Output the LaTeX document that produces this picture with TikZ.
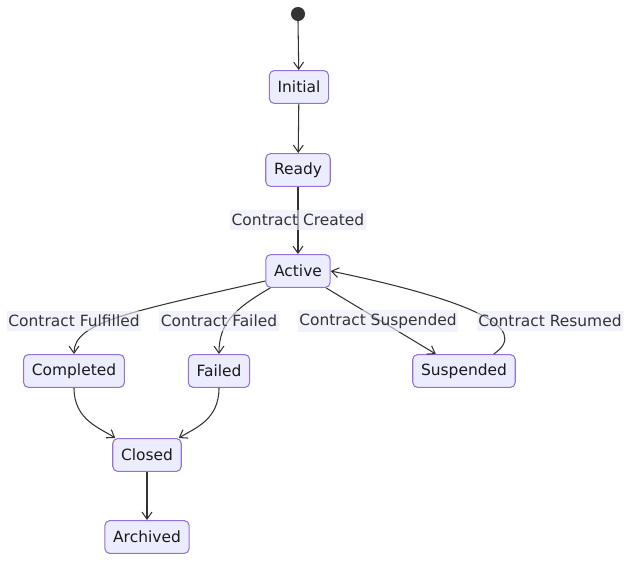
\documentclass[tikz,border=0pt]{standalone}
\usepackage{fontspec}
\setmainfont{DejaVu Sans}
\usepackage{tikz}
\usetikzlibrary{arrows.meta,calc}
\definecolor{statefill}{RGB}{236, 236, 255}
\definecolor{stateline}{RGB}{147, 112, 219}
\definecolor{edgegray}{RGB}{51, 51, 51}
\definecolor{labelbg}{RGB}{234, 234, 252}

\begin{document}
\begin{tikzpicture}[x=0.02cm, y=-0.02cm, font=\fontsize{8.8}{10.5}\selectfont,
  >={Straight Barb[length=4pt, width=5.6pt]},
  state/.style={draw=stateline, fill=statefill, line width=0.6pt, rounded corners=2.8pt,
    minimum height=18.7pt, inner xsep=4.7pt, inner ysep=0pt, text=black!90},
  trans/.style={->, draw=edgegray, line width=0.6pt},
  lbl/.style={fill=labelbg, fill opacity=0.6, text opacity=1, text=edgegray,
    inner xsep=1pt, inner ysep=2.2pt}]
\useasboundingbox (0,0) rectangle (640,568);
\fill[edgegray] (298,14) circle (4pt) coordinate (start);
\foreach \n/\t/\x/\y in {%
  initial/Initial/299/87, ready/Ready/298/170, active/Active/298/271,
  completed/Completed/74/371, failed/Failed/219/371, suspended/Suspended/464/371,
  closed/Closed/147/455, archived/Archived/147/537} {
  \node[state] (\n) at (\x,\y) {\t};
}
% transitions
\draw[trans] ([yshift=-4pt]start) -- (initial);
\draw[trans] (initial) -- (ready);
\draw[trans] (ready) -- (active);
\draw[trans] (active.197) .. controls (130,312) and (74,322) .. (completed.north);
\draw[trans] ($(active.south west)+(5,0)$) .. controls (232,310) and (219,325) .. (failed.north);
\draw[trans] (active) -- (suspended);
\draw[trans] ($(suspended.north east)+(-22,0)$) .. controls (532,328) and (470,300) .. (active.east);
\draw[trans] (completed.south) .. controls (74,420) and (100,428) .. ($(closed.north west)+(3,0)$);
\draw[trans] (failed.south) .. controls (219,420) and (195,428) .. ($(closed.north east)+(-3,0)$);
\draw[trans] (closed) -- (archived);
% labels
\node[lbl] (created) at (298,220) {Contract Created};
\node[lbl] (fulfilled) at (74,321) {Contract Fulfilled};
\node[lbl] (failedlbl) at (219,321) {Contract Failed};
\node[lbl] (suspendlbl) at (378,321) {Contract Suspended};
\node[lbl] (resumed) at (550,321) {Contract Resumed};
\end{tikzpicture}
\end{document}
